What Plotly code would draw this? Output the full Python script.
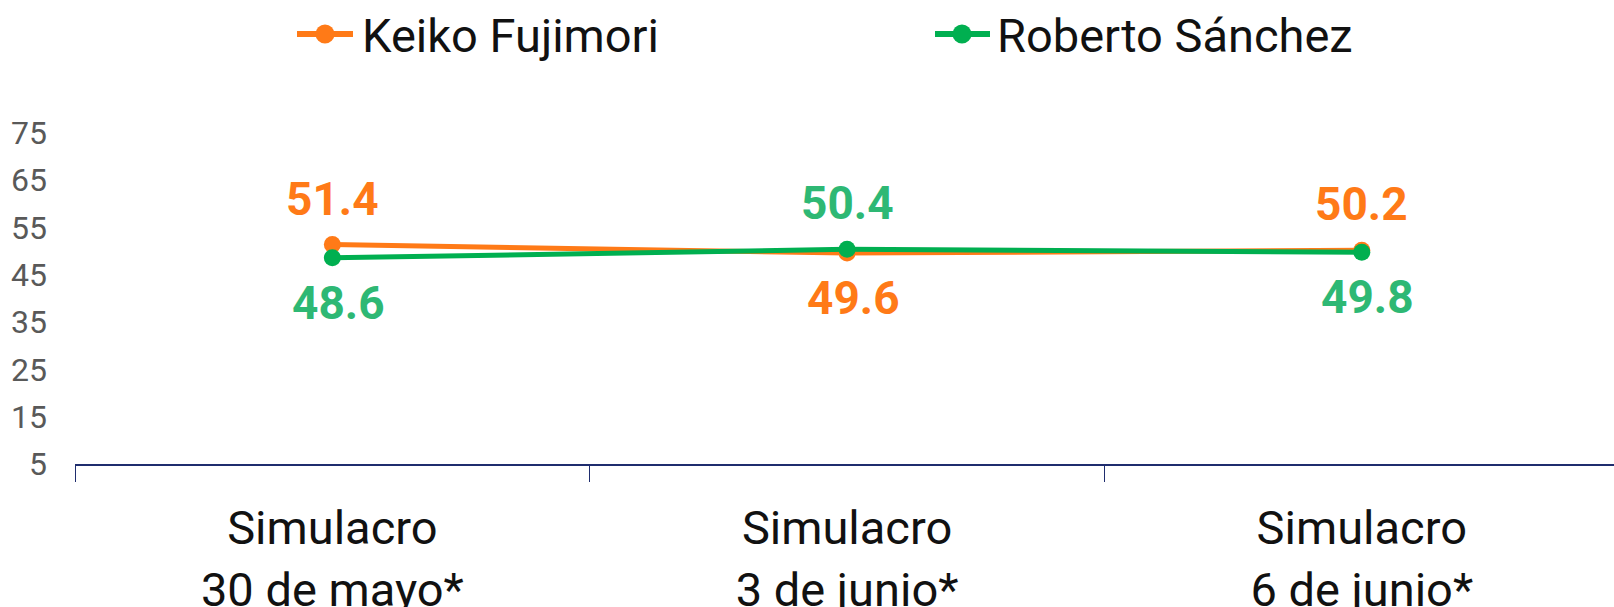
import plotly.graph_objects as go

categories = ["Simulacro<br>30 de mayo*", "Simulacro<br>3 de junio*", "Simulacro<br>6 de junio*"]
keiko = [51.4, 49.6, 50.2]
roberto = [48.6, 50.4, 49.8]
y_ticks = [5, 15, 25, 35, 45, 55, 65, 75]

# label placement: +1 above, -1 below
keiko_side = [1, -1, 1]
roberto_side = [-1, 1, -1]

ORANGE = "#FF7A17"
GREEN_LINE = "#00AF50"
GREEN_TXT = "#2EB874"
FONT = "Roboto"

W, H = 1614, 607
ML, MR, MT, MB = 75, 0, 133, 143
PW, PH = W - ML - MR, H - MT - MB


def px(xp):
    return (xp - ML) / PW


def py(yp):
    return (H - MB - yp) / PH


fig = go.Figure()
fig.add_trace(go.Scatter(
    x=categories, y=keiko, name="Keiko Fujimori", mode="lines+markers",
    line=dict(color=ORANGE, width=5), marker=dict(color=ORANGE, size=17),
    cliponaxis=False, showlegend=False))
fig.add_trace(go.Scatter(
    x=categories, y=roberto, name="Roberto Sánchez", mode="lines+markers",
    line=dict(color=GREEN_LINE, width=5), marker=dict(color=GREEN_LINE, size=17),
    cliponaxis=False, showlegend=False))

annotations = []
for vals, sides, col in [(keiko, keiko_side, ORANGE), (roberto, roberto_side, GREEN_TXT)]:
    for i, (v, s) in enumerate(zip(vals, sides)):
        annotations.append(dict(
            x=categories[i], y=v, xref="x", yref="y", text=f"{v:.1f}", showarrow=False,
            font=dict(family=FONT, size=46, color=col, weight="bold"),
            yshift=46 if s > 0 else -45, xshift=0 if s > 0 else 6))

# custom legend (line + dot symbol, then name)
shapes = []
legend_items = [("Keiko Fujimori", ORANGE, 297, 353, 325, 360),
                ("Roberto Sánchez", GREEN_LINE, 935, 990, 962, 995)]
LY = 34
for name, col, x0, x1, xc, xt in legend_items:
    shapes.append(dict(type="line", xref="paper", yref="paper",
                       x0=px(x0), x1=px(x1), y0=py(LY), y1=py(LY),
                       line=dict(color=col, width=6)))
    r = 9.5
    shapes.append(dict(type="circle", xref="paper", yref="paper",
                       x0=px(xc - r), x1=px(xc + r), y0=py(LY - r), y1=py(LY + r),
                       fillcolor=col, line=dict(width=0)))
    annotations.append(dict(x=px(xt), y=py(LY + 1), xref="paper", yref="paper",
                            xanchor="left", yanchor="middle", text=name, showarrow=False,
                            font=dict(family=FONT, size=47, color="#111111")))

fig.update_layout(
    width=W, height=H,
    margin=dict(l=ML, r=MR, t=MT, b=MB, autoexpand=False),
    paper_bgcolor="white", plot_bgcolor="white",
    font=dict(family=FONT),
    showlegend=False,
    annotations=annotations,
    shapes=shapes,
)
fig.update_xaxes(
    type="category", categoryorder="array", categoryarray=categories,
    range=[-0.5, 2.49], showgrid=False, zeroline=False, automargin=False,
    showline=True, linecolor="#1F2D6E", linewidth=2,
    ticks="outside", tickson="boundaries", ticklen=16, tickcolor="#1F2D6E", tickwidth=1,
    ticklabelstandoff=22,
    tickfont=dict(family=FONT, size=47, color="#111111"))
fig.update_yaxes(
    range=[5, 75], tickvals=y_ticks, ticktext=[str(t) for t in y_ticks],
    showgrid=False, zeroline=False, showline=False, ticks="", automargin=False,
    ticklabelstandoff=27,
    tickfont=dict(family=FONT, size=32, color="#595959"))

fig.write_html("out.html", config={"displayModeBar": False},
               post_script="document.body.style.margin='0';")
